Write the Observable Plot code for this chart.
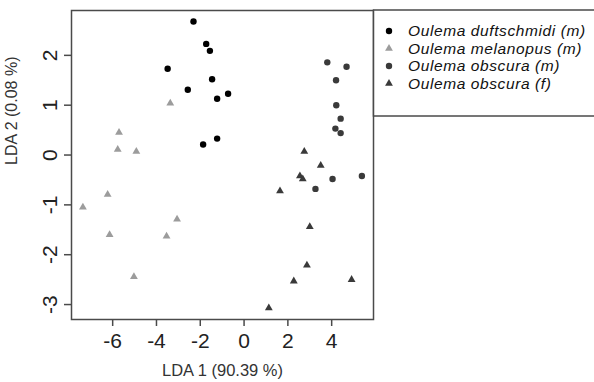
<!DOCTYPE html>
<html><head><meta charset="utf-8">
<script src="https://cdn.jsdelivr.net/npm/d3@7"></script>
<script src="https://cdn.jsdelivr.net/npm/@observablehq/plot@0.6"></script>
<style>body{margin:0;background:#fff}</style>
</head><body><div id="chart"></div>
<script>
const seriesNames = ["Oulema duftschmidi (m)", "Oulema melanopus (m)", "Oulema obscura (m)", "Oulema obscura (f)"];
const duftX = [-2.31, -1.73, -1.56, -3.49, -1.46, -2.57, -0.73, -1.23, -1.23, -1.87];
const duftY = [2.68, 2.23, 2.09, 1.73, 1.52, 1.31, 1.23, 1.13, 0.33, 0.21];
const melaX = [-3.37, -5.71, -5.77, -4.92, -6.23, -7.36, -3.06, -6.14, -3.54, -5.03];
const melaY = [1.04, 0.45, 0.11, 0.07, -0.79, -1.05, -1.29, -1.60, -1.63, -2.44];
const obsMX = [3.80, 4.68, 4.20, 4.21, 4.41, 4.17, 4.41, 4.04, 5.38, 3.26];
const obsMY = [1.86, 1.77, 1.50, 1.00, 0.73, 0.53, 0.44, -0.48, -0.42, -0.68];
const obsFX = [2.75, 3.50, 2.55, 2.68, 1.64, 3.00, 2.87, 2.27, 4.91, 1.13];
const obsFY = [0.07, -0.21, -0.42, -0.48, -0.72, -1.44, -2.21, -2.53, -2.50, -3.07];
const xTicks = [-6, -4, -2, 0, 2, 4];
const yTicks = [-3, -2, -1, 0, 1, 2];
const xTitle = "LDA 1 (90.39 %)";
const yTitle = "LDA 2 (0.08 %)";

const colors = ["#000000", "#9c9c9c", "#3a3a3a", "#3a3a3a"];
const symbols = ["circle", "triangle", "circle", "triangle"];
const radii = [3.2, 2.9, 3.2, 2.9];
const xs = [duftX, melaX, obsMX, obsFX];
const ys = [duftY, melaY, obsMY, obsFY];
const series = xs.map((X, k) => X.map((x, i) => ({x, y: ys[k][i]})));

const font = "'Liberation Sans', Arial, Helvetica, sans-serif";
const axisColor = "#4a4a4a";

const chart = Plot.plot({
  width: 594, height: 382,
  marginLeft: 71, marginRight: 221, marginTop: 10, marginBottom: 63,
  style: {fontFamily: font, background: "#fff", overflow: "visible"},
  x: {domain: [-7.88, 5.91]},
  y: {domain: [-3.30, 2.90]},
  marks: [
    Plot.frame({stroke: axisColor, strokeWidth: 1.5}),
    Plot.axisX({ticks: xTicks, tickSize: 7, label: null, text: null, stroke: axisColor, strokeWidth: 1.5}),
    Plot.axisY({ticks: yTicks, tickSize: 7, label: null, text: null, stroke: axisColor, strokeWidth: 1.5}),
    Plot.text(xTicks, {x: d => d, text: d => String(d), frameAnchor: "bottom", dy: 14, lineAnchor: "top", fontSize: 21, fill: "#222"}),
    Plot.text(yTicks, {y: d => d, text: d => String(d), frameAnchor: "left", dx: -15, rotate: -90, lineAnchor: "bottom", textAnchor: "middle", fontSize: 21, fill: "#222"}),
    Plot.text([xTitle], {text: d => d, frameAnchor: "bottom", dy: 56, lineAnchor: "bottom", fontSize: 16.5, fill: "#333"}),
    Plot.text([yTitle], {text: d => d, frameAnchor: "left", dx: -55, rotate: -90, lineAnchor: "bottom", fontSize: 16, fill: "#333"}),
    ...series.map((s, k) => Plot.dot(s, {x: "x", y: "y", symbol: symbols[k], r: radii[k], fill: colors[k], stroke: "none"}))
  ]
});
document.getElementById("chart").appendChild(chart);

// legend
const svg = d3.select(chart);
const lg = svg.append("g");
lg.append("rect").attr("x", 373.5).attr("y", 10).attr("width", 240).attr("height", 106)
  .attr("fill", "#fff").attr("stroke", axisColor).attr("stroke-width", 1.5);
seriesNames.forEach((name, k) => {
  const cy = 31 + k * 17.5;
  const size = Math.PI * radii[k] * radii[k];
  lg.append("path")
    .attr("d", d3.symbol(symbols[k] === "circle" ? d3.symbolCircle : d3.symbolTriangle, size)())
    .attr("transform", `translate(389,${cy})`)
    .attr("fill", colors[k]);
  lg.append("text").attr("x", 408).attr("y", cy).attr("dy", "0.35em")
    .attr("text-anchor", "start")
    .attr("font-family", font).attr("font-size", 15.5).attr("font-style", "italic")
    .attr("letter-spacing", 0.6)
    .attr("fill", "#111").text(name);
});
</script>
</body></html>
